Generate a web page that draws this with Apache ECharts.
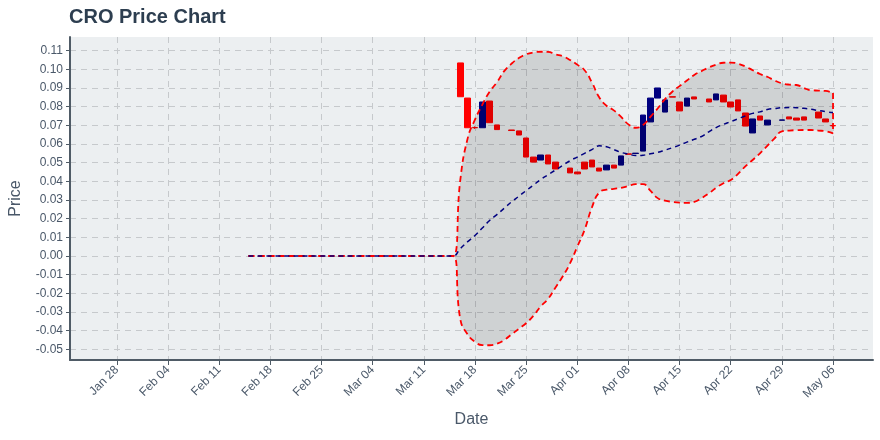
<!DOCTYPE html>
<html>
<head>
<meta charset="utf-8">
<script src="https://cdn.jsdelivr.net/npm/echarts@6/dist/echarts.min.js"></script>
<style>html,body{margin:0;padding:0;background:#fff}#c{width:880px;height:440px}</style>
</head>
<body>
<div id="c"></div>
<script>
// ---- data ----
const bandStart = '2019-02-15';   // first day of the moving-average / band series
const candleStart = '2019-03-16'; // first day with real OHLC data
const xTickLabels = ['Jan 28','Feb 04','Feb 11','Feb 18','Feb 25','Mar 04','Mar 11','Mar 18','Mar 25','Apr 01','Apr 08','Apr 15','Apr 22','Apr 29','May 06'];
const xTickDates = ['2019-01-28','2019-02-04','2019-02-11','2019-02-18','2019-02-25','2019-03-04','2019-03-11','2019-03-18','2019-03-25','2019-04-01','2019-04-08','2019-04-15','2019-04-22','2019-04-29','2019-05-06'];
const yTicks = [-0.05,-0.04,-0.03,-0.02,-0.01,0,0.01,0.02,0.03,0.04,0.05,0.06,0.07,0.08,0.09,0.10,0.11];

const openVals = [0.1034,0.0846,0.0688,0.0687,0.0830,0.0702,null,0.0675,0.0670,0.0632,0.0530,0.0514,0.0541,0.0503,null,0.0471,0.0450,0.0503,0.0514,0.0471,0.0461,0.0487,0.0487,0.0547,0.0549,0.0562,0.0718,0.0846,0.0771,0.0853,0.0825,0.0803,0.0852,null,0.0841,0.0836,0.0862,0.0825,0.0836,0.0766,0.0659,0.0750,0.0702,null,0.0727,0.0745,0.0739,0.0745,null,0.0771,0.0734,0.0699];
const closeVals = [0.0853,0.0687,0.0687,0.0825,0.0714,0.0677,null,0.0672,0.0648,0.0530,0.0503,0.0541,0.0493,0.0466,null,0.0445,0.0440,0.0466,0.0477,0.0455,0.0487,0.0471,0.0536,0.0545,0.0551,0.0755,0.0846,0.0900,0.0836,0.0851,0.0777,0.0846,0.0841,null,0.0825,0.0868,0.0825,0.0798,0.0777,0.0696,0.0734,0.0728,0.0728,null,0.0729,0.0734,0.0728,0.0728,null,0.0739,0.0718,0.0697];
const highVals = [0.1034,0.0846,0.0694,0.0825,0.0830,0.0702,null,0.0675,0.0670,0.0632,0.0530,0.0541,0.0541,0.0503,null,0.0471,0.0450,0.0503,0.0514,0.0471,0.0487,0.0487,0.0536,0.0547,0.0551,0.0755,0.0846,0.0900,0.0836,0.0853,0.0825,0.0846,0.0852,null,0.0841,0.0868,0.0862,0.0825,0.0836,0.0766,0.0734,0.0750,0.0728,null,0.0729,0.0745,0.0739,0.0745,null,0.0771,0.0734,0.0704];
const lowVals = [0.0853,0.0687,0.0681,0.0687,0.0714,0.0677,null,0.0672,0.0648,0.0530,0.0503,0.0514,0.0493,0.0466,null,0.0445,0.0440,0.0466,0.0477,0.0455,0.0461,0.0471,0.0487,0.0545,0.0549,0.0562,0.0718,0.0846,0.0771,0.0851,0.0777,0.0803,0.0841,null,0.0825,0.0836,0.0825,0.0798,0.0777,0.0696,0.0659,0.0728,0.0702,null,0.0727,0.0734,0.0728,0.0728,null,0.0739,0.0718,0.0692];

const maVals = [0,0,0,0,0,0,0,0,0,0,0,0,0,0,0,0,0,0,0,0,0,0,0,0,0,0,0,0,0,
  0.004,0.0077,0.011,0.015,0.019,0.0222,0.0256,0.029,0.032,0.035,0.038,0.041,0.0435,0.046,0.0485,0.051,0.053,0.055,0.057,0.059,0.0585,0.057,0.0555,0.0546,0.0538,0.054,0.0548,0.0555,0.0567,0.058,0.0594,0.061,0.0625,0.064,0.0665,0.0688,0.0705,0.072,0.0735,0.075,0.0764,0.0772,0.0785,0.079,0.0794,0.0795,0.0794,0.0791,0.0786,0.0779,0.0773,0.0768];
const upperVals = [0,0,0,0,0,0,0,0,0,0,0,0,0,0,0,0,0,0,0,0,0,0,0,0,0,0,0,0,0,
  0.041,0.063,0.073,0.081,0.088,0.093,0.099,0.103,0.106,0.108,0.109,0.1094,0.1093,0.108,0.107,0.105,0.1025,0.0995,0.093,0.085,0.0805,0.078,0.0745,0.0705,0.0687,0.0702,0.0745,0.079,0.084,0.088,0.091,0.094,0.097,0.099,0.101,0.1025,0.1035,0.1036,0.103,0.1015,0.0995,0.0975,0.096,0.094,0.0925,0.0918,0.0916,0.090,0.0888,0.0886,0.0884,0.0873];
const lowerVals = [0,0,0,0,0,0,0,0,0,0,0,0,0,0,0,0,0,0,0,0,0,0,0,0,0,0,0,0,0,
  -0.034,-0.042,-0.046,-0.0477,-0.0478,-0.047,-0.045,-0.042,-0.039,-0.036,-0.032,-0.027,-0.023,-0.017,-0.011,-0.004,0.005,0.014,0.026,0.034,0.0355,0.036,0.0365,0.0375,0.0385,0.0385,0.035,0.031,0.0297,0.029,0.0286,0.0285,0.029,0.031,0.0335,0.0365,0.039,0.0407,0.044,0.048,0.0514,0.055,0.059,0.063,0.0668,0.0672,0.0674,0.0675,0.0675,0.0672,0.0668,0.0657];

// ---- build ----
const DAY = 86400000;
const ts = s => Date.parse(s + 'T00:00:00Z');
const bandT0 = ts(bandStart), candleT0 = ts(candleStart);
const bandDates = maVals.map((_, i) => bandT0 + i * DAY);
const candleData = [];
openVals.forEach((o, i) => {
  if (o == null) return;
  candleData.push([candleT0 + i * DAY, o, closeVals[i], lowVals[i], highVals[i]]);
});
const pairs = arr => arr.map((v, i) => [bandDates[i], v]);
const diffVals = upperVals.map((u, i) => u - lowerVals[i]);
const last = upperVals.length - 1;
const xTickVals = xTickDates.map(ts);
const labelMap = {};
xTickVals.forEach((t, i) => labelMap[t] = xTickLabels[i]);
const xMin = ts('2019-01-28') - 6.42 * DAY;
const xMax = ts('2019-01-28') + 103.47 * DAY;

const axisColor = '#4f5b66';
const textColor = '#4a5869';
const gridLine = {show: true, lineStyle: {color: '#c6c9cc', width: 1, type: [6, 5]}};
const font = 'Liberation Sans, Arial, sans-serif';
const red = '#ff0000', navy = '#000080';
const bandLine = {color: red, width: 1.8, type: [6, 4]};

const chart = echarts.init(document.getElementById('c'), null, {renderer: 'canvas'});
chart.setOption({
  useUTC: true,
  animation: false,
  backgroundColor: '#ffffff',
  title: {text: 'CRO Price Chart', left: 64, top: 2,
    textStyle: {fontSize: 20, fontWeight: 'bold', color: '#2d3e50', fontFamily: font}},
  grid: {left: 69, right: 7, top: 37, bottom: 80, show: true, backgroundColor: '#eceff1', borderWidth: 0, containLabel: false},
  xAxis: [
    { // data axis (time) - carries the series
      type: 'time', min: xMin, max: xMax, position: 'bottom',
      axisLine: {show: false}, axisTick: {show: false}, axisLabel: {show: false}, splitLine: {show: false}
    },
    { // decoration axis: weekly ticks, labels and grid lines
      type: 'value', min: xMin, max: xMax, position: 'bottom',
      name: 'Date', nameLocation: 'middle', nameGap: 52,
      nameTextStyle: {fontSize: 16, color: textColor, fontFamily: font},
      axisLine: {show: true, onZero: false, lineStyle: {color: axisColor, width: 2}},
      axisTick: {show: true, length: 5, customValues: xTickVals, lineStyle: {color: axisColor, width: 1}},
      axisLabel: {customValues: xTickVals, rotate: 45, margin: 8, fontSize: 12, color: textColor, fontFamily: font,
        formatter: v => labelMap[v] || ''},
      splitLine: gridLine
    }
  ],
  yAxis: {
    type: 'value',
    min: -0.0557, max: 0.1173,
    name: 'Price', nameLocation: 'middle', nameGap: 46,
    nameTextStyle: {fontSize: 16, color: textColor, fontFamily: font},
    axisLine: {show: true, onZero: false, lineStyle: {color: axisColor, width: 2}},
    axisTick: {show: true, length: 4, customValues: yTicks, lineStyle: {color: axisColor, width: 1}},
    axisLabel: {customValues: yTicks, margin: 7, fontSize: 12, color: textColor, fontFamily: font,
      formatter: v => v.toFixed(2)},
    splitLine: gridLine
  },
  series: [
    {
      type: 'candlestick', name: 'CRO', z: 2, xAxisIndex: 0,
      data: candleData, encode: {x: 0, y: [1, 2, 3, 4]},
      barWidth: 6,
      itemStyle: {color: navy, color0: red, borderColor: navy, borderColor0: red, borderWidth: 1}
    },
    {
      type: 'line', name: 'Lower', z: 4, xAxisIndex: 0, stack: 'band', stackStrategy: 'all',
      data: pairs(lowerVals), smooth: true, symbol: 'none',
      lineStyle: bandLine
    },
    {
      type: 'line', name: 'BandFill', z: 3, xAxisIndex: 0, stack: 'band', stackStrategy: 'all',
      data: pairs(diffVals), smooth: true, symbol: 'none',
      lineStyle: {width: 0, color: 'rgba(0,0,0,0)'},
      areaStyle: {color: 'rgba(0,0,0,0.12)', opacity: 1}
    },
    {
      type: 'line', name: 'Upper', z: 4, xAxisIndex: 0,
      data: pairs(upperVals), smooth: true, symbol: 'none',
      lineStyle: bandLine
    },
    {
      type: 'line', name: 'BandEnd', z: 4, xAxisIndex: 0,
      data: [[bandDates[last], upperVals[last]], [bandDates[last], lowerVals[last]]],
      symbol: 'none',
      lineStyle: bandLine
    },
    {
      type: 'line', name: 'MA', z: 5, xAxisIndex: 0,
      data: pairs(maVals), smooth: true, symbol: 'none',
      lineStyle: {color: navy, width: 1.5, type: [5, 4]}
    }
  ]
});
</script>
</body>
</html>
